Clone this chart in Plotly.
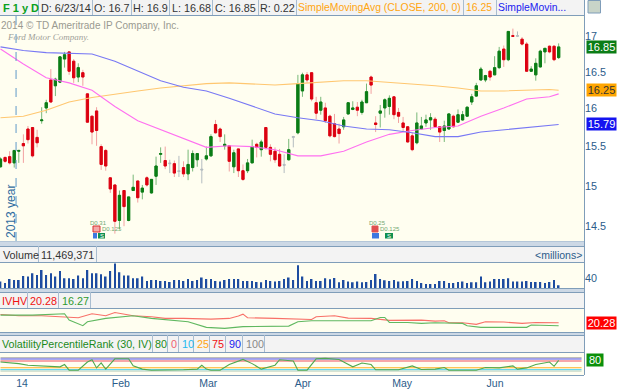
import math
import plotly.graph_objects as go

# ---- price data (one candle per trading day) ----
opens = [15.24,15.36,15.37,15.29,15.44,15.54,15.73,15.75,15.62,15.84,16.01,16.39,16.31,16.36,16.68,16.78,16.65,16.43,16.49,16.20,
15.90,15.97,15.50,15.45,15.10,15.01,14.57,14.94,14.57,14.94,15.06,14.92,15.10,14.91,15.12,15.40,15.32,15.29,15.28,15.19,
15.23,15.15,15.23,15.33,15.21,15.34,15.38,15.79,15.73,15.51,15.51,15.24,15.47,15.19,15.19,15.29,15.53,15.46,15.75,15.49,
15.44,15.40,15.27,15.33,15.62,15.68,16.24,16.46,16.49,16.08,15.98,16.01,15.90,15.80,15.73,15.76,15.93,15.99,16.02,15.95,
16.08,16.43,15.81,15.94,16.01,16.03,16.16,15.95,15.81,15.76,15.64,15.55,15.73,15.81,15.85,15.86,15.76,15.71,15.73,15.90,
15.82,15.85,15.90,16.09,16.17,16.39,16.39,16.51,16.46,16.56,16.82,16.67,17.01,17.00,16.96,16.89,16.51,16.46,16.57,16.78,
16.86,16.86,16.70]
highs = [15.36,15.37,15.44,15.45,15.45,15.66,15.77,15.75,15.72,16.02,16.12,16.54,16.42,16.72,16.78,16.78,16.68,16.62,16.53,16.21,
15.90,16.02,15.53,15.47,15.11,15.01,14.94,14.94,14.86,15.14,15.06,15.01,15.12,15.08,15.37,15.49,15.50,15.33,15.32,15.38,
15.31,15.46,15.45,15.41,15.34,15.50,15.66,15.85,15.75,15.66,15.51,15.46,15.47,15.27,15.34,15.59,15.55,15.59,15.75,15.53,
15.49,15.47,15.40,15.60,15.64,16.46,16.49,16.50,16.49,16.16,16.16,16.08,15.92,15.93,15.80,15.89,16.09,16.10,16.09,16.12,
16.34,16.45,15.90,16.05,16.14,16.18,16.17,16.01,15.89,15.76,15.68,15.95,15.89,15.92,15.94,15.89,15.76,15.84,15.94,15.92,
15.99,15.97,16.03,16.20,16.35,16.57,16.46,16.53,16.72,16.85,16.87,17.07,17.11,17.07,16.99,16.92,16.58,16.69,16.81,16.83,
16.87,16.87,16.90]
lows = [15.23,15.29,15.27,15.23,15.29,15.29,15.54,15.36,15.49,15.80,15.94,16.08,16.17,16.35,16.56,16.46,16.35,16.36,16.31,15.81,
15.53,15.51,15.20,15.19,14.91,14.41,14.46,14.50,14.56,14.94,14.79,14.83,14.99,14.90,15.01,15.29,15.21,15.16,15.11,15.11,
15.11,15.07,15.18,15.24,15.03,15.32,15.37,15.67,15.56,15.46,15.18,15.16,15.11,15.06,15.16,15.29,15.36,15.37,15.46,15.31,
15.29,15.24,15.16,15.32,15.49,15.66,16.16,16.35,16.10,15.86,15.92,15.81,15.62,15.62,15.54,15.72,15.92,15.98,15.90,15.92,
16.08,16.20,15.69,15.75,15.88,15.92,15.86,15.81,15.69,15.55,15.44,15.53,15.72,15.76,15.72,15.75,15.56,15.56,15.72,15.75,
15.81,15.84,15.90,16.05,16.16,16.38,16.36,16.38,16.46,16.54,16.57,16.65,16.99,16.99,16.87,16.50,16.50,16.38,16.56,16.62,
16.76,16.65,16.68]
closes = [15.34,15.31,15.29,15.45,15.45,15.51,15.59,15.38,15.55,15.85,16.08,16.09,16.40,16.71,16.74,16.51,16.42,16.56,16.43,15.82,
15.69,15.71,15.27,15.25,14.96,14.56,14.88,14.74,14.86,14.98,14.85,14.97,15.01,15.08,15.25,15.41,15.25,15.28,15.16,15.18,
15.15,15.27,15.41,15.41,15.20,15.38,15.63,15.68,15.63,15.53,15.31,15.42,15.19,15.08,15.29,15.50,15.49,15.56,15.49,15.40,
15.33,15.25,15.26,15.46,15.63,16.34,16.46,16.39,16.13,15.94,16.09,15.84,15.64,15.63,15.67,15.85,16.08,16.01,15.98,16.09,
16.23,16.32,15.79,15.97,16.12,16.14,15.92,15.90,15.75,15.56,15.46,15.81,15.77,15.85,15.88,15.76,15.69,15.77,15.93,15.76,
15.92,15.92,16.02,16.16,16.31,16.54,16.45,16.43,16.56,16.79,16.67,17.07,17.00,17.01,16.89,16.51,16.54,16.62,16.79,16.83,
16.78,16.67,16.85]
doji_days = [37, 39, 44, 62, 64, 113]

# ---- moving averages, read every few sessions ----
ma_days = [0,5,10,15,20,25,30,35,40,45,50,55,60,65,70,75,80,85,90,95,100,105,110,115,120,122]
sma_orange = [15.88,15.90,15.98,16.09,16.15,16.20,16.24,16.28,16.31,16.34,16.35,16.34,16.32,16.34,16.36,16.38,16.38,16.36,16.34,16.31,16.28,16.24,16.24,16.25,16.26,16.25]
sma_pink = [16.82,16.61,16.42,16.35,16.25,16.03,15.84,15.72,15.60,15.49,15.51,15.50,15.46,15.38,15.38,15.44,15.56,15.66,15.71,15.75,15.77,15.90,16.01,16.13,16.16,16.20]
sma_blue = [16.85,16.80,16.77,16.76,16.75,16.65,16.51,16.38,16.29,16.24,16.14,16.03,15.93,15.88,15.84,15.77,15.73,15.72,15.68,15.63,15.63,15.69,15.72,15.75,15.78,15.79]

# ---- volume, millions ----
volume = [27,20,37,33,33,49,47,60,53,73,53,60,47,69,40,40,37,51,40,73,60,60,56,47,69,100,64,51,51,40,40,47,29,33,33,29,29,24,33,33,29,37,29,33,43,37,
37,29,27,33,37,37,37,29,29,29,24,23,33,29,27,29,37,43,33,93,47,29,37,29,29,40,36,41,23,33,27,23,27,23,24,33,57,37,32,29,33,27,28,29,37,29,
20,16,16,16,29,29,20,20,24,27,20,23,23,47,23,27,37,37,37,40,27,27,27,29,24,24,24,20,24,33,11.47]

# ---- implied / historical volatility ----
iv_days = [0,4,9,14,17,20,23,25,29,33,36,40,46,50,52,53,54,60,65,68,69,73,76,81,85,92,95,97,98,101,104,106,110,114,117,122]
iv_vals = [31.4,29.6,29.6,27.4,27.0,32.3,29.6,34.0,29.6,28.3,26.1,26.1,25.2,26.1,29.2,31.8,27.0,26.1,24.7,24.7,28.3,29.6,26.5,26.1,23.4,23.8,22.5,22.9,20.3,20.3,18.1,21.6,21.2,19.4,20.7,20.28]
hv_days = [0,7,14,15,18,19,23,29,33,38,41,45,49,53,63,65,68,81,83,84,85,89,92,95,98,101,102,105,115,116,122]
hv_vals = [30.5,30.5,32.3,23.8,16.3,21.6,26.1,29.6,26.1,23.4,21.6,14.1,12.7,15.0,15.8,21.6,23.0,23.0,27.4,27.4,20.7,20.7,19.4,20.3,19.4,19.4,16.3,14.1,14.1,17.2,16.27]

# ---- volatility percentile rank ----
vpr_days = [0,2,4,6,9,11,13,14,15,17,19,20,21,22,23,25,28,29,31,33,36,40,43,44,45,46,48,50,53,55,57,60,61,64,65,67,69,71,74,77,79,81,82,87,90,92,95,97,98,104,106,109,112,113,115,117,120,121,122]
vpr_vals = [68,63,56,44,39,39,32,49,7,7,68,85,24,61,15,92,92,39,15,7,7,10,15,44,15,7,7,49,87,56,15,44,85,75,7,7,92,95,87,32,61,49,10,10,39,12,15,27,7,7,27,24,39,15,24,49,68,36,80]
vpr_levels = [100, 90, 75, 25, 10, 0]
vpr_level_colors = ["#a8a8a8", "#5555ee", "#f05060", "#ffb020", "#30c8f0", "#c8d8c8"]

# ---- axis labels ----
price_ticks = [14.5, 15, 15.5, 16, 16.5, 17]
price_text = ["14.5", "15", "15.5", "16", "16.5", "17"]
month_pos = [4.7, 26.3, 45.4, 66.1, 87.8, 108.1]
month_text = ["14", "Feb", "Mar", "Apr", "May", "Jun"]
year_break = 3.4

W, H = 625, 390
FONT = "Liberation Sans"
EDGE = "#7f9db9"
BG = "#fffef0"
HEAD = "#f3f3f3"
TICK = "#2b5c8a"
PLOT_R = 584 / W
TXT = 10.8


def py(y):
    return 1 - y / H


def dom(top, bottom):
    return [py(bottom), py(top)]


x_axis = dict(range=[-0.11, 127.54], domain=[0, PLOT_R], showgrid=False, zeroline=False,
              showticklabels=False, ticks="", showline=False, rangeslider=dict(visible=False), fixedrange=True)

fig = go.Figure()

dates = list(range(len(opens)))
ma_line = [("#ffc770", sma_orange), ("#ff70f0", sma_pink), ("#7878f4", sma_blue)]
for col, vals in ma_line:
    fig.add_trace(go.Scatter(x=ma_days, y=vals, mode="lines", line=dict(color=col, width=1.1), hoverinfo="skip"))

regular = [d for d in dates if d not in doji_days]


def pick(vals, days):
    return [vals[d] for d in days]


# pale wicks under solid bodies
fig.add_trace(go.Candlestick(x=regular, open=pick(opens, regular), high=pick(highs, regular), low=pick(lows, regular),
                             close=pick(closes, regular), whiskerwidth=0,
                             increasing=dict(line=dict(color="#78b878", width=1), fillcolor="#78b878"),
                             decreasing=dict(line=dict(color="#f2a0a0", width=1), fillcolor="#f2a0a0"),
                             hoverinfo="skip"))
body_hi = [max(opens[d], closes[d]) for d in regular]
body_lo = [min(opens[d], closes[d]) for d in regular]
fig.add_trace(go.Candlestick(x=regular, open=pick(opens, regular), high=body_hi, low=body_lo,
                             close=pick(closes, regular), whiskerwidth=0,
                             increasing=dict(line=dict(color="#0b7d16", width=1), fillcolor="#0b7d16"),
                             decreasing=dict(line=dict(color="#dc0010", width=1), fillcolor="#dc0010"),
                             hoverinfo="skip"))
fig.add_trace(go.Candlestick(x=doji_days, open=pick(opens, doji_days), high=pick(highs, doji_days), low=pick(lows, doji_days),
                             close=pick(closes, doji_days), whiskerwidth=0,
                             increasing=dict(line=dict(color="#b4bcc0", width=1), fillcolor="#b4bcc0"),
                             decreasing=dict(line=dict(color="#b4bcc0", width=1), fillcolor="#b4bcc0"),
                             hoverinfo="skip"))

fig.add_trace(go.Bar(x=dates, y=volume, width=0.36, marker=dict(color="#1d4ca0", line=dict(width=0)),
                     xaxis="x2", yaxis="y2", hoverinfo="skip"))

fig.add_trace(go.Scatter(x=iv_days, y=iv_vals, mode="lines", line=dict(color="#f87068", width=1.1),
                         xaxis="x3", yaxis="y3", hoverinfo="skip"))
fig.add_trace(go.Scatter(x=hv_days, y=hv_vals, mode="lines", line=dict(color="#60b860", width=1.1),
                         xaxis="x3", yaxis="y3", hoverinfo="skip"))

for lvl, col in zip(vpr_levels, vpr_level_colors):
    fig.add_trace(go.Scatter(x=[0, 127], y=[lvl, lvl], mode="lines", line=dict(color=col, width=1.1),
                             xaxis="x4", yaxis="y4", hoverinfo="skip"))
fig.add_trace(go.Scatter(x=vpr_days, y=vpr_vals, mode="lines", line=dict(color="#50a850", width=1.1),
                         xaxis="x4", yaxis="y4", hoverinfo="skip"))

shapes = []


def rect(x0, y0, x1, y1, fill, line=None):
    shapes.append(dict(type="rect", xref="paper", yref="paper", x0=x0 / W, x1=x1 / W, y0=py(y1), y1=py(y0),
                       fillcolor=fill, line=dict(width=1 if line else 0, color=line or fill), layer="above"))


def hline(y, col=EDGE, x1=584):
    shapes.append(dict(type="line", xref="paper", yref="paper", x0=0, x1=x1 / W, y0=py(y), y1=py(y),
                       line=dict(color=col, width=1), layer="above"))


def vline(x, y0, y1, col="#a9bdd0"):
    shapes.append(dict(type="line", xref="paper", yref="paper", x0=x / W, x1=x / W, y0=py(y0), y1=py(y1),
                       line=dict(color=col, width=1), layer="above"))


# header rows
rect(0, 0, 584, 15, HEAD)
rect(0, 246, 584, 262, HEAD)
rect(0, 292, 584, 308, HEAD)
rect(0, 335, 584, 352, HEAD)
# separator bands
rect(0, 241.5, 584, 246, "#ccd8e5")
rect(0, 288, 584, 292, "#ccd8e5")
rect(0, 332, 584, 335, "#ccd8e5")
for y in [15, 246, 262, 288, 292, 308, 332, 335, 352, 375]:
    hline(y + 0.5)
hline(241.5, "#b4c6d8")
vline(584.5, 0, 375, EDGE)
for x in [38, 92, 131, 169, 212, 258, 296, 463, 496]:
    vline(x + 0.5, 0, 15)
for x in [38, 96]:
    vline(x + 0.5, 246, 262)
for x in [27, 58, 90]:
    vline(x + 0.5, 292, 308)
for x in [152, 167, 178, 193, 209, 225, 242, 264]:
    vline(x + 0.5, 335, 352)
# year break
shapes.append(dict(type="line", xref="x", yref="paper", x0=year_break, x1=year_break, y0=py(241), y1=py(15),
                   line=dict(color="#5f9ac8", width=1, dash="dash"), layer="above"))
# corner icon
rect(588, 0.5, 600.5, 13, "#c8d4c8", "#7f9db9")
# event markers
rect(93, 226, 100, 232, "#f4a8a8", "#d83030")
rect(93, 233, 97, 238.5, "#3c78e0")
rect(98, 233, 105, 238.5, "#109050")
rect(372, 226, 378, 232, "#e05050", "#e05050")
rect(372, 233, 379, 238.5, "#3c78e0")
rect(385, 233, 393, 238.5, "#109050")

ann = []


def label(text, x, y, color="#333333", size=TXT, anchor="left", **kw):
    ann.append(dict(text=text, x=x / W, y=py(y), xref="paper", yref="paper", showarrow=False, xanchor=anchor,
                    yanchor="middle", borderpad=0, font=dict(family=FONT, size=size, color=color), **kw))


label("<b>F 1 y D</b>", 2, 7.5, "#0aa020", 11)
for t, x in [("D: 6/23/14", 40), ("O: 16.7", 93), ("H: 16.9", 132), ("L: 16.68", 171), ("C: 16.85", 214), ("R: 0.22", 259)]:
    label(t, x, 7.5)
label("SimpleMovingAvg (CLOSE, 200, 0)", 297, 7.5, "#ffa510", 10.4)
label("16.25", 465, 7.5, "#ffa510", 10.4)
label("SimpleMovin...", 497, 7.5, "#2020f0", 10.4)
label("2014 © TD Ameritrade IP Company, Inc.", 0, 26, "#9a9a90", 10)
label("<i>Ford Motor Company.</i>", 6, 37, "#a0a098", 9)
ann[-1]["font"]["family"] = "Liberation Serif"
label("2013 year", 11, 212, "#2f6ca0", 12, anchor="center", textangle=-90)

label("Volume", 2, 254.5)
label("11,469,371", 40, 254.5)
label("&lt;millions&gt;", 583, 254.5, TICK, 10.5, anchor="right")
label("IVHV", 1, 301, "#f01010")
label("20.28", 29, 301, "#f01010")
label("16.27", 61, 301, "#2f9a2f")
label("VolatilityPercentileRank (30, IV)", 1, 344, "#1a8a1a", 10.7)
for t, x, c in [("80", 154, "#1a8a1a"), ("0", 170, "#f06070"), ("10", 181, "#20b8f0"), ("25", 196, "#ffa510"),
                ("75", 211, "#f01010"), ("90", 228, "#2020f0"), ("100", 245, "#888888")]:
    label(t, x, 344, c)

for t, x, y, c, a in [("D0.31", 89, 223, "#70a870", "left"), ("D0.125", 101, 229, "#70a870", "left"),
                      ("D0.25", 368, 223, "#70a870", "left"), ("D0.125", 379, 229, "#70a870", "left")]:
    label(t, x, y, c, 6, anchor=a)
for t, x in [("S", 101.5), ("S", 389)]:
    label(t, x, 236, "#ffffff", 6, anchor="center")


def tag(text, y, yref, bg, fg="#ffffff", w=29):
    ann.append(dict(text=text, x=586 / W, y=y, xref="paper", yref=yref, showarrow=False, xanchor="left",
                    yanchor="middle", bgcolor=bg, width=w, height=12, align="center", borderpad=0,
                    font=dict(family=FONT, size=11, color=fg)))


tag(f"{closes[-1]:.2f}", math.log10(closes[-1]), "y", "#0b7d16")
tag(f"{sma_orange[-1]:.2f}", math.log10(sma_orange[-1]), "y", "#ffa500", "#333333")
tag(f"{sma_blue[-1]:.2f}", math.log10(sma_blue[-1]), "y", "#1414f0")
tag(f"{iv_vals[-1]:.2f}", iv_vals[-1], "y3", "#ff0000")
tag(f"{vpr_vals[-1]}", vpr_vals[-1], "y4", "#0a900a", w=16)

y_common = dict(showgrid=False, zeroline=False, side="right", ticks="", showline=False, fixedrange=True)
tick_font = dict(family=FONT, size=10.8, color=TICK)

fig.update_layout(
    width=W, height=H, autosize=False,
    margin=dict(l=0, r=0, t=0, b=0, pad=0),
    paper_bgcolor="#ffffff", plot_bgcolor=BG,
    showlegend=False, boxmode="overlay", barmode="overlay",
    font=dict(family=FONT),
    xaxis=dict(x_axis, anchor="y"),
    xaxis2=dict(x_axis, anchor="y2"),
    xaxis3=dict(x_axis, anchor="y3"),
    xaxis4=dict(x_axis, anchor="y4", showticklabels=True, tickmode="array", tickvals=month_pos, ticktext=month_text,
                tickfont=dict(family=FONT, size=10.5, color=TICK)),
    yaxis=dict(y_common, type="log", domain=dom(15.5, 241.5), range=[1.1558, 1.23803], anchor="x",
               tickmode="array", tickvals=price_ticks, ticktext=price_text, tickfont=tick_font),
    yaxis2=dict(y_common, domain=dom(262.5, 288), range=[0, 104], anchor="x2",
                tickmode="array", tickvals=[40], ticktext=["40"], tickfont=tick_font),
    yaxis3=dict(y_common, domain=dom(308.5, 332), range=[7.85, 39.4], anchor="x3", showticklabels=False),
    yaxis4=dict(y_common, domain=dom(352.5, 375), range=[-29, 139], anchor="x4", showticklabels=False),
    shapes=shapes, annotations=ann,
)

fig.write_html("out.html", post_script="document.body.style.margin='0';", config={"displayModeBar": False})
